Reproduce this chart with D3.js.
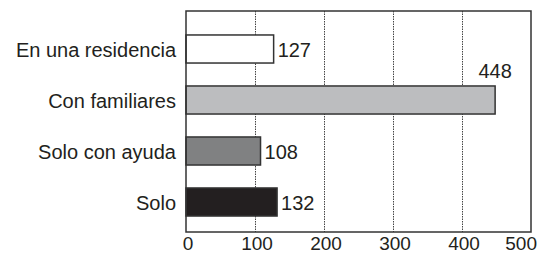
<!DOCTYPE html>
<html>
<head>
<meta charset="utf-8">
<script src="https://cdn.jsdelivr.net/npm/d3@7"></script>
<style>
  html, body { margin: 0; padding: 0; background: #fff; }
  svg { display: block; }
  text { font-family: "Liberation Sans", Arial, sans-serif; fill: #231f20; }
</style>
</head>
<body>
<script>
const categories = ["En una residencia", "Con familiares", "Solo con ayuda", "Solo"];
const values = [127, 448, 108, 132];
const barColors = ["#ffffff", "#bcbdbf", "#808182", "#231f20"];
const tickValues = [0, 100, 200, 300, 400, 500];

const W = 538, H = 255;
const plotLeft = 186, plotRight = 531, plotTop = 11, plotBottom = 232;

const svg = d3.select("body").append("svg").attr("width", W).attr("height", H);

const x = d3.scaleLinear().domain([0, 500]).range([plotLeft, plotRight]);
const y = d3.scaleBand().domain(categories).range([23.5, 227.5])
  .paddingInner(0.45).paddingOuter(0.225);

// gridlines
svg.append("g").selectAll("line")
  .data(tickValues.filter(d => d > 0 && d < 500))
  .join("line")
  .attr("x1", d => Math.round(x(d)) + 0.5).attr("x2", d => Math.round(x(d)) + 0.5)
  .attr("y1", plotTop).attr("y2", plotBottom)
  .attr("stroke", "#444").attr("stroke-width", 1)
  .attr("stroke-dasharray", "1.5,1");

// bars
svg.append("g").selectAll("rect")
  .data(categories)
  .join("rect")
  .attr("x", x(0))
  .attr("y", d => y(d))
  .attr("width", (d, i) => x(values[i]) - x(0))
  .attr("height", y.bandwidth())
  .attr("fill", (d, i) => barColors[i])
  .attr("stroke", "#333")
  .attr("stroke-width", 1.5);

// frame
svg.append("rect")
  .attr("x", plotLeft).attr("y", plotTop)
  .attr("width", plotRight - plotLeft).attr("height", plotBottom - plotTop)
  .attr("fill", "none").attr("stroke", "#333").attr("stroke-width", 1.5);

// category labels
svg.append("g").selectAll("text")
  .data(categories)
  .join("text")
  .attr("x", plotLeft - 10)
  .attr("y", d => y(d) + y.bandwidth() / 2)
  .attr("dy", "0.42em")
  .attr("text-anchor", "end")
  .attr("font-size", 20)
  .text(d => d);

// value labels
svg.append("g").selectAll("text")
  .data(categories)
  .join("text")
  .attr("x", (d, i) => values[i] > 400 ? x(values[i]) : x(values[i]) + 4)
  .attr("y", (d, i) => values[i] > 400 ? y(d) - 8 : y(d) + y.bandwidth() / 2)
  .attr("dy", (d, i) => values[i] > 400 ? "0" : "0.42em")
  .attr("text-anchor", (d, i) => values[i] > 400 ? "middle" : "start")
  .attr("font-size", 20)
  .text((d, i) => values[i]);

// x tick labels
svg.append("g").selectAll("text")
  .data(tickValues)
  .join("text")
  .attr("y", 250)
  .attr("text-anchor", "middle")
  .attr("font-size", 19)
  .text(d => d)
  .attr("x", function(d) {
    const half = this.getComputedTextLength() / 2;
    return Math.max(half + 1, Math.min(x(d) + 2, W - 1 - half));
  });
</script>
</body>
</html>
